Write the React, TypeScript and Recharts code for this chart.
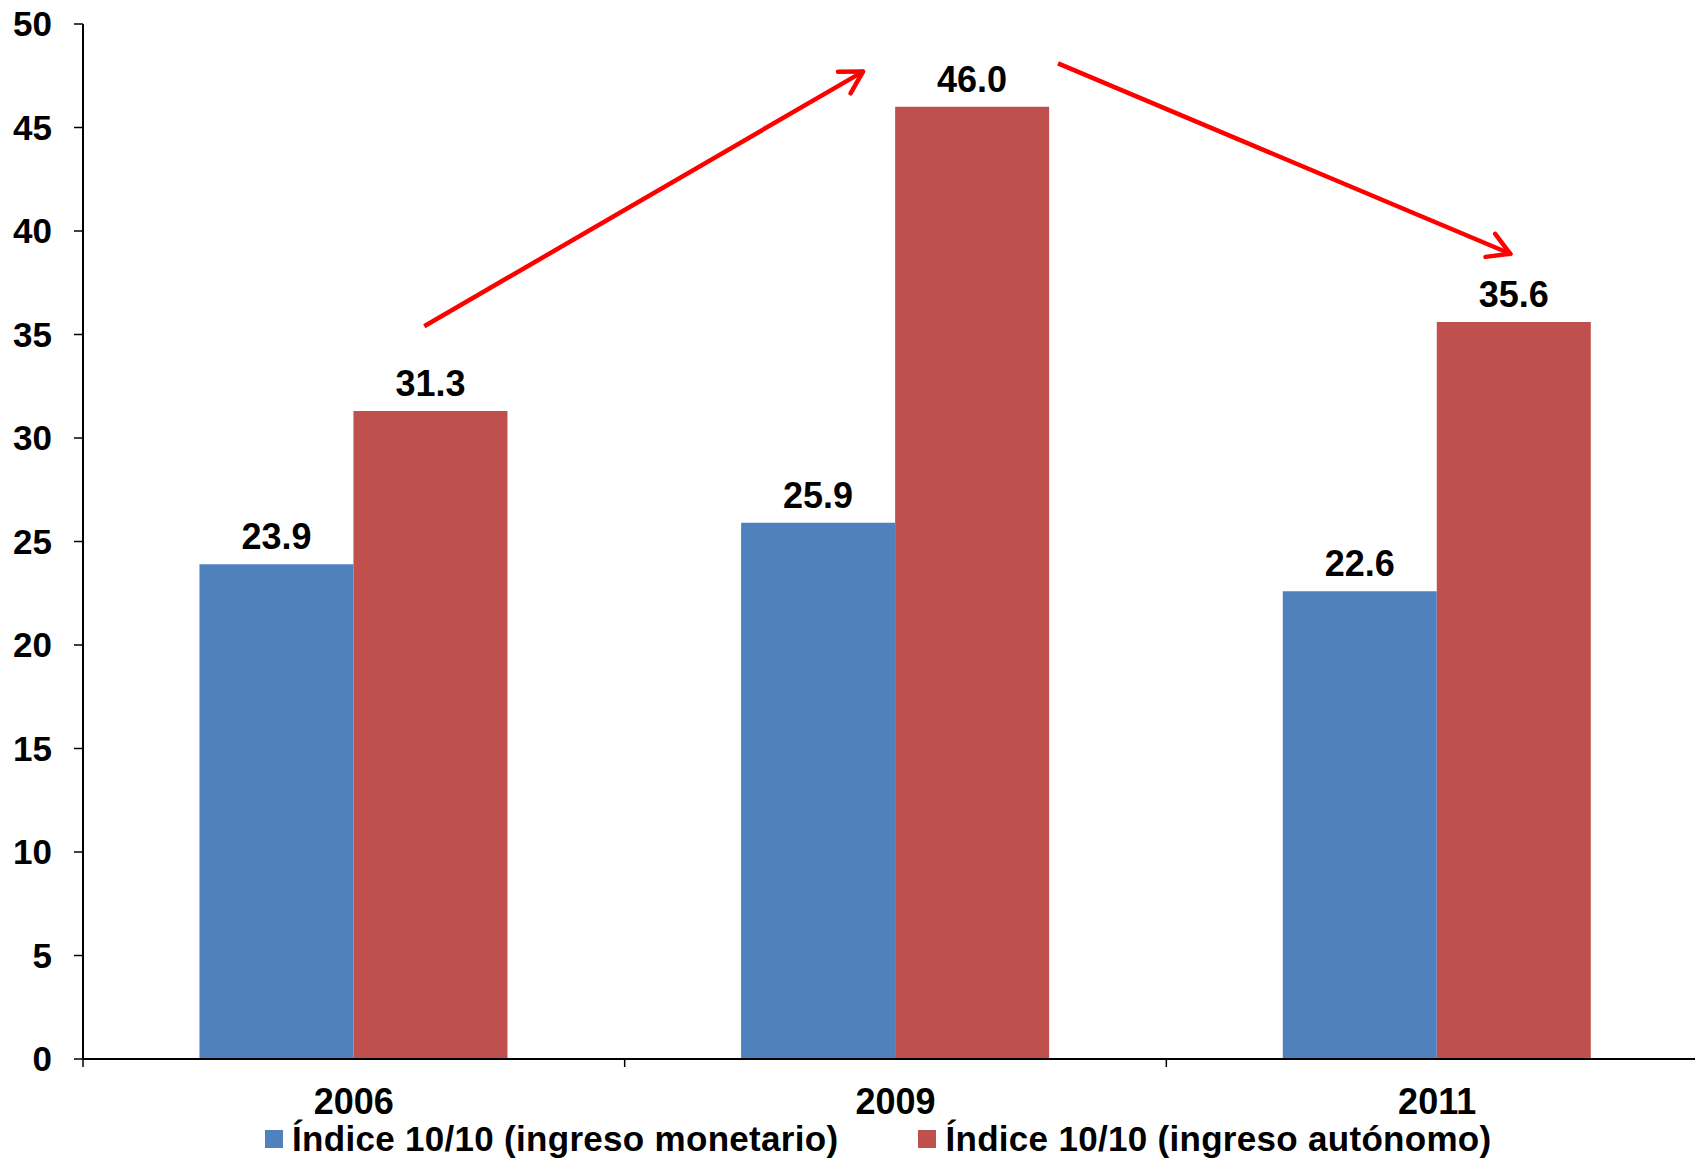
import React from "react";
import {
  Bar,
  BarChart,
  LabelList,
  Legend,
  ReferenceLine,
  XAxis,
  YAxis,
} from "recharts";

const years = ["2006", "2009", "2011"];
const monetario = [23.9, 25.9, 22.6];
const autonomo = [31.3, 46.0, 35.6];
const yTicks = [0, 5, 10, 15, 20, 25, 30, 35, 40, 45, 50];

const seriesNames = [
  "Índice 10/10 (ingreso monetario)",
  "Índice 10/10 (ingreso autónomo)",
];
const seriesColors = ["#4F81BD", "#C0504D"];

// trend arrows, in (category position, value) units
const arrowUp = [
  { x: 0.63, y: 35.4 },
  { x: 1.44, y: 47.7 },
];
const arrowDown = [
  { x: 1.8, y: 48.1 },
  { x: 2.635, y: 38.9 },
];

const data = years.map((year, i) => ({
  year,
  pos: i + 0.5,
  monetario: monetario[i],
  autonomo: autonomo[i],
}));

const CHART_W = 1708;
const CHART_H = 1159;
const Y_AXIS_W = 83;
const FONT = "'Liberation Sans', Arial, sans-serif";

const bandWidth = (CHART_W - Y_AXIS_W) / years.length;

const XTick = (props: any) => {
  const { x, y, payload } = props;
  const left = x - bandWidth / 2;
  return (
    <g>
      <line x1={left} y1={y} x2={left} y2={y + 8} stroke="#000" strokeWidth={1.5} />
      <text
        x={x}
        y={y + 42}
        dy="0.35em"
        textAnchor="middle"
        fontFamily={FONT}
        fontWeight="bold"
        fontSize={36}
        fill="#000"
      >
        {payload.value}
      </text>
    </g>
  );
};

const Arrow = (props: any) => {
  const { x1, y1, x2, y2 } = props;
  if ([x1, y1, x2, y2].some((v) => typeof v !== "number")) return null;
  const ang = Math.atan2(y2 - y1, x2 - x1);
  const len = 25;
  const spread = Math.PI / 6;
  const a1 = ang + Math.PI - spread;
  const a2 = ang + Math.PI + spread;
  return (
    <g stroke="#FF0000" strokeWidth={4.5} strokeLinecap="round" fill="none">
      <line x1={x1} y1={y1} x2={x2} y2={y2} strokeLinecap="butt" />
      <line x1={x2} y1={y2} x2={x2 + len * Math.cos(a1)} y2={y2 + len * Math.sin(a1)} />
      <line x1={x2} y1={y2} x2={x2 + len * Math.cos(a2)} y2={y2 + len * Math.sin(a2)} />
    </g>
  );
};

const LegendContent = () => (
  <div
    style={{
      display: "flex",
      alignItems: "center",
      paddingLeft: 265,
      height: 40,
      fontFamily: FONT,
      fontWeight: "bold",
      fontSize: 35,
      letterSpacing: 0.3,
      lineHeight: "36px",
      color: "#000",
      whiteSpace: "nowrap",
    }}
  >
    {seriesNames.map((name, i) => (
      <div
        key={name}
        style={{ display: "flex", alignItems: "center", marginRight: 80 }}
      >
        <span
          style={{
            display: "inline-block",
            width: 18,
            height: 18,
            background: seriesColors[i],
            marginRight: 9,
          }}
        />
        <span>{name}</span>
      </div>
    ))}
  </div>
);

const labelStyle = {
  fill: "#000",
  fontSize: 36,
  fontWeight: "bold",
  fontFamily: FONT,
};

const App: React.FC = () => {
  return (
    <div
      style={{
        position: "absolute",
        left: 0,
        top: 0,
        width: 1695,
        height: 1159,
        overflow: "hidden",
        background: "#fff",
      }}
    >
      <BarChart
        width={CHART_W}
        height={CHART_H}
        data={data}
        margin={{ top: 24, right: 0, left: 0, bottom: 0 }}
        barCategoryGap="21.5%"
        barGap={0}
      >
        <XAxis
          dataKey="year"
          height={60}
          tickLine={false}
          tickSize={0}
          tickMargin={0}
          axisLine={{ stroke: "#000", strokeWidth: 2 }}
          tick={<XTick />}
          interval={0}
        />
        <XAxis
          xAxisId="pos"
          dataKey="pos"
          type="number"
          domain={[0, 3]}
          allowDataOverflow
          hide
        />
        <YAxis
          width={Y_AXIS_W}
          domain={[0, 50]}
          ticks={yTicks}
          interval={0}
          tickSize={9}
          tickMargin={22}
          axisLine={{ stroke: "#000", strokeWidth: 2 }}
          tickLine={{ stroke: "#000", strokeWidth: 1.5 }}
          tick={{
            fill: "#000",
            fontSize: 35,
            fontWeight: "bold",
            fontFamily: FONT,
          }}
        />
        <Legend verticalAlign="bottom" height={40} content={<LegendContent />} />
        <Bar
          dataKey="monetario"
          name={seriesNames[0]}
          fill={seriesColors[0]}
          isAnimationActive={false}
        >
          <LabelList
            dataKey="monetario"
            position="top"
            offset={15}
            formatter={(v: any) => Number(v).toFixed(1)}
            style={labelStyle}
          />
        </Bar>
        <Bar
          dataKey="autonomo"
          name={seriesNames[1]}
          fill={seriesColors[1]}
          isAnimationActive={false}
        >
          <LabelList
            dataKey="autonomo"
            position="top"
            offset={15}
            formatter={(v: any) => Number(v).toFixed(1)}
            style={labelStyle}
          />
        </Bar>
        <ReferenceLine
          xAxisId="pos"
          segment={arrowUp}
          shape={<Arrow />}
          ifOverflow="visible"
        />
        <ReferenceLine
          xAxisId="pos"
          segment={arrowDown}
          shape={<Arrow />}
          ifOverflow="visible"
        />
      </BarChart>
    </div>
  );
};

export default App;
